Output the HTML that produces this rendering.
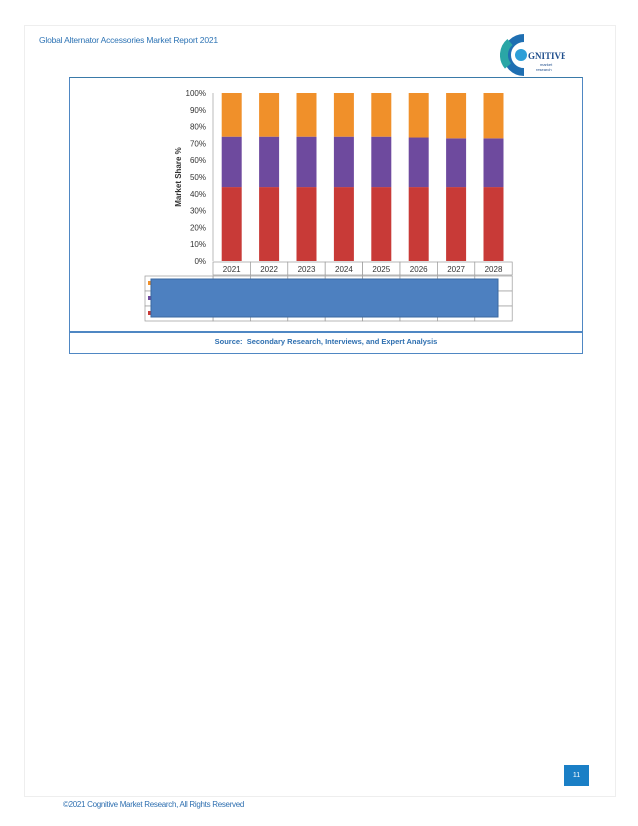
<!DOCTYPE html>
<html><head><meta charset="utf-8"><style>
body{margin:0;width:638px;height:826px;background:#fff;position:relative;font-family:"Liberation Sans",sans-serif;overflow:hidden}
.abs{position:absolute}
</style></head><body>
<div class="abs" style="left:24px;top:25px;width:590px;height:770px;border:1px solid #eee"></div>
<div class="abs" style="left:39px;top:35px;font-size:8.5px;color:#2e74b5;letter-spacing:-0.2px">Global Alternator Accessories Market Report 2021</div>
<svg class="abs" style="left:500px;top:32px" width="65" height="45" viewBox="0 0 65 45">
<path d="M24 6 A17 17 0 1 0 24 40" stroke="#1f6fb2" stroke-width="8" fill="none"/>
<path d="M10 10 A17 17 0 0 0 8 34" stroke="#2aa6a6" stroke-width="8" fill="none"/>
<circle cx="21" cy="23" r="6" fill="#2e9fd8"/>
<text x="28" y="27" font-size="9" font-weight="bold" fill="#1f4e8c" font-family="Liberation Serif,serif">GNITIVE</text>
<text x="40" y="34" font-size="4" fill="#1f4e8c">market</text>
<text x="36" y="39" font-size="4" fill="#1f4e8c">research</text>
</svg>
<div class="abs" style="left:69px;top:77px;width:512px;height:275px;border:1.5px solid #4f87c3;border-top-color:#3a7aa8"></div>
<div class="abs" style="left:69px;top:331px;width:514px;height:1.5px;background:#4f87c3"></div>
<div class="abs" style="left:69px;top:337px;width:514px;text-align:center;font-size:7.5px;font-weight:bold;color:#2e6fb0">Source:&nbsp; Secondary Research, Interviews, and Expert Analysis</div>
<svg class="abs" id="chart" style="left:0;top:0" width="638" height="826"></svg>
<div class="abs" style="left:564px;top:765px;width:25px;height:21px;background:#1a7fc6;color:#fff;font-size:7px;text-align:center;line-height:21px">11</div>
<div class="abs" style="left:63px;top:800px;font-size:8px;color:#2e6fb0;letter-spacing:-0.3px">©2021 Cognitive Market Research, All Rights Reserved</div>
<script>
const years=["2021","2022","2023","2024","2025","2026","2027","2028"];
const seriesA=[44,44,44,44,44,44,44,44];
const seriesB=[30,30,30,30,30,29.5,29,29];
const seriesC=[26,26,26,26,26,26.5,27,27];
const yTicks=[0,10,20,30,40,50,60,70,80,90,100];
const colors=["#c83a37","#6e4a9e","#f0902a"];
const NS="http://www.w3.org/2000/svg";
const svg=document.getElementById('chart');
const y0=261,y1=93,x0=213,step=37.4;
const ys=v=>y0-(v/100)*(y0-y1);
const xs=i=>x0+step*(i+0.5);
function mk(t,a,p){const e=document.createElementNS(NS,t);for(const k in a)e.setAttribute(k,a[k]);(p||svg).appendChild(e);return e;}
yTicks.forEach(t=>{const e=mk('text',{x:206,y:ys(t)+3,'font-size':8,'text-anchor':'end',fill:'#333'});e.textContent=t+'%';

});
const yt=mk('text',{x:0,y:0,'font-size':8,'font-weight':'bold',transform:'translate(181,177) rotate(-90)','text-anchor':'middle',fill:'#333'});yt.textContent='Market Share %';


mk('line',{x1:x0,y1:y1,x2:x0,y2:y0,stroke:'#bbb'});
years.forEach((yr,i)=>{let base=0;[seriesA[i],seriesB[i],seriesC[i]].forEach((v,s)=>{
const r=mk('rect',{x:xs(i)-10,y:ys(base+v),width:20,height:ys(base)-ys(base+v),fill:colors[s]});


base+=v;});
const c=mk('rect',{x:x0+step*i,y:262,width:step,height:13,fill:'#fff',stroke:'#999','stroke-width':0.7});
const t=mk('text',{x:xs(i),y:272,'font-size':8,'text-anchor':'middle',fill:'#333'});t.textContent=yr;


for(let r=0;r<3;r++)mk('rect',{x:x0+step*i,y:276+r*15,width:step,height:15,fill:'#fff',stroke:'#999','stroke-width':0.7});});
for(let r=0;r<3;r++){mk('rect',{x:145,y:276+r*15,width:68,height:15,fill:'#fff',stroke:'#999','stroke-width':0.7});
mk('rect',{x:148,y:281+r*15,width:4,height:4,fill:colors[2-r]});}
const m=mk('rect',{x:151,y:279,width:347,height:38,fill:'#4d80c0',stroke:'#3a68a0'});


</script>
</body></html>
